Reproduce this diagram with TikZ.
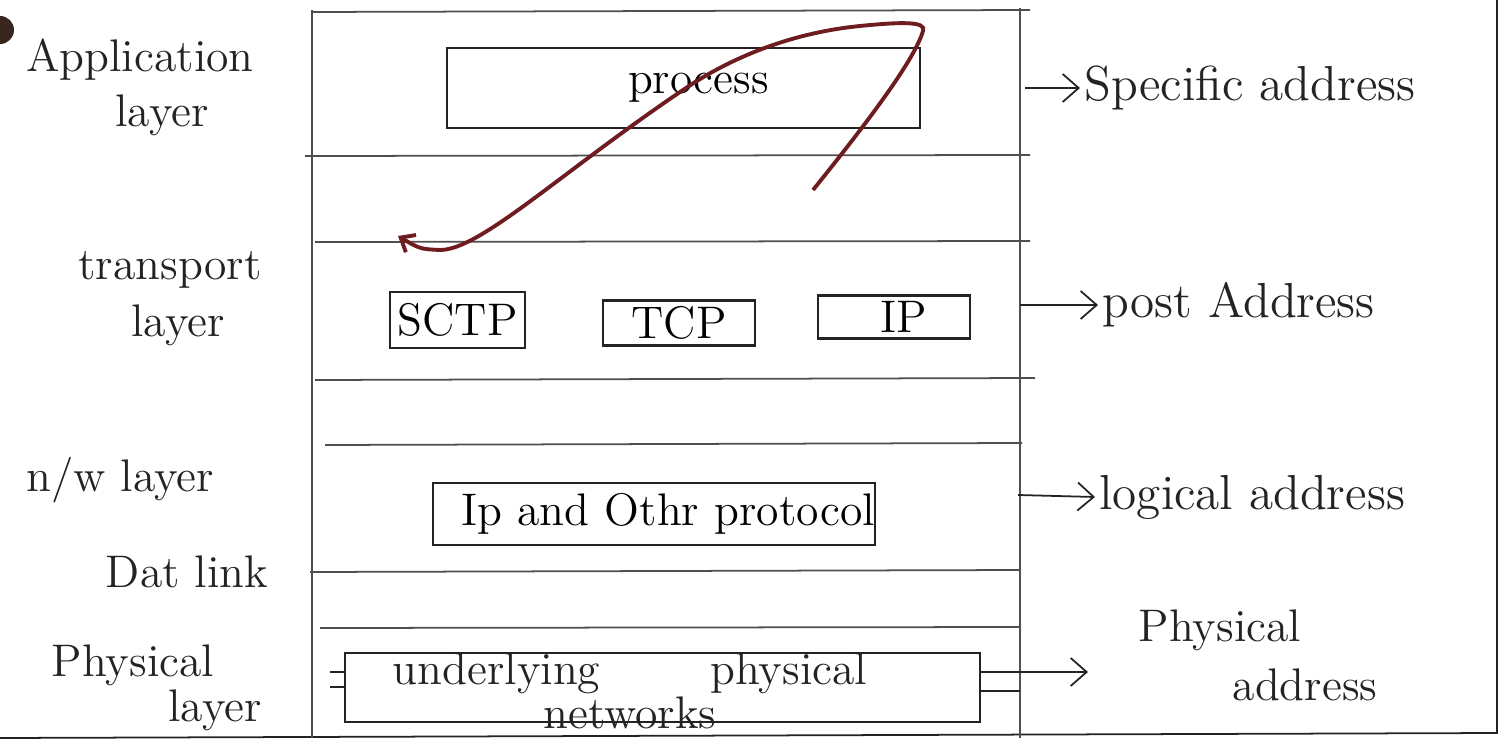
\documentclass[tikz,border=0pt]{standalone}
\usepackage{tikz}
\usetikzlibrary{arrows.meta}
\definecolor{ink}{RGB}{35,35,35}
\definecolor{penred}{RGB}{110,28,32}
\definecolor{hole}{RGB}{55,38,30}

\begin{document}
\begin{tikzpicture}[font=\fontsize{13}{16}\selectfont, line width=0.5pt,
	layerline/.style={color=ink!80},
	protobox/.style={draw=ink, line width=0.6pt, inner sep=0pt},
	lbl/.style={text=ink, inner sep=1pt},
	addrarrow/.style={draw=ink, -{Straight Barb[length=1.6mm,width=2.8mm]}}]
	\useasboundingbox (0,0) rectangle (15.1,7.53);
	\fill[white] (0,0) rectangle (15.1,7.53);
	% sheet edge and punch hole
	\fill[hole] (0,7.23) circle (0.14);
	\draw[ink] (14.97,7.53) -- (14.97,0.2) -- (0,0.15);
	% layer bands
	\draw[layerline] (3.12,7.43) -- (3.12,0.15);
	\draw[layerline] (10.20,7.45) -- (10.20,0.15);
	\draw[layerline] (3.12,7.41) -- (10.30,7.43);
	\draw[layerline] (3.05,5.97) -- (10.30,5.98);
	\draw[layerline] (3.15,5.11) -- (10.30,5.12);
	\draw[layerline] (3.15,3.73) -- (10.35,3.75);
	\draw[layerline] (3.25,3.08) -- (10.22,3.10);
	\draw[layerline] (3.10,1.81) -- (10.20,1.83);
	\draw[layerline] (3.20,1.25) -- (10.20,1.26);
	% layer names
	\node[lbl] (appname) at (1.40,6.93) {Application};
	\node[lbl] (appname2) at (1.62,6.38) {layer};
	\node[lbl] (trname) at (1.70,4.83) {transport};
	\node[lbl] (trname2) at (1.78,4.28) {layer};
	\node[lbl] (nwname) at (1.20,2.73) {n/w layer};
	\node[lbl] (dlname) at (1.87,1.81) {Dat link};
	\node[lbl] (phname) at (1.33,0.88) {Physical};
	\node[lbl] (phname2) at (2.15,0.43) {layer};
	% protocol boxes
	\node[protobox, minimum width=4.73cm, minimum height=0.8cm] (process) at (6.835,6.65) {\hspace{0.3cm}process};
	\node[protobox, minimum width=1.35cm, minimum height=0.56cm] (sctp) at (4.575,4.33) {SCTP};
	\node[protobox, minimum width=1.52cm, minimum height=0.45cm] (tcp) at (6.79,4.30) {TCP};
	\node[protobox, minimum width=1.52cm, minimum height=0.43cm] (ip) at (8.94,4.36) {\hspace{0.2cm}IP};
	\node[protobox, minimum height=0.62cm, text width=4.42cm, align=right] (ipother) at (6.54,2.39) {Ip and Othr protocol};
	\node[protobox, minimum width=6.35cm, minimum height=0.69cm] (phys) at (6.625,0.655) {};
	\node[lbl, align=center, font=\fontsize{13}{11}\selectfont] (physnet) at (6.3,0.62) {underlying\hspace{1.1cm}physical\\networks};
	\draw[ink] (3.30,0.81) -- (3.45,0.81);
	\draw[ink] (3.30,0.66) -- (3.45,0.66);
	\draw[ink] (9.80,0.62) -- (10.20,0.62);
	% addresses
	\node[lbl, anchor=west, font=\fontsize{14}{16}\selectfont] (specaddr) at (10.80,6.65) {Specific address};
	\node[lbl, anchor=west, font=\fontsize{14}{16}\selectfont] (postaddr) at (10.98,4.48) {post Address};
	\node[lbl, anchor=west, font=\fontsize{14}{16}\selectfont] (logaddr) at (10.95,2.56) {logical address};
	\node[lbl] (phyaddr) at (12.20,1.23) {Physical};
	\node[lbl] (phyaddr2) at (13.05,0.68) {address};
	\coordinate (apptip) at (10.25,6.65);
	\coordinate (trtip) at (10.20,4.48);
	\coordinate (nwtip) at (10.18,2.58);
	\coordinate (phtip) at (9.80,0.81);
	\coordinate (phend) at (10.88,0.81);
	\draw[addrarrow] (apptip) -- (specaddr.west);
	\draw[addrarrow] (trtip) -- (postaddr.west);
	\draw[addrarrow] (nwtip) -- (logaddr.west);
	\draw[addrarrow] (phtip) -- (phend);
	% red stroke from process down to transport
	\draw[penred, line width=1.1pt, -{Straight Barb[length=1.2mm,width=2mm]}]
	  (8.13,5.63) .. controls (8.75,6.4) and (9.15,6.95) .. (9.23,7.22)
	  .. controls (9.27,7.32) and (9.0,7.31) .. (8.6,7.27)
	  .. controls (7.9,7.2) and (7.3,6.95) .. (6.83,6.63)
	  .. controls (5.6,5.8) and (4.8,5.03) .. (4.4,5.03)
	  .. controls (4.2,5.04) .. (3.98,5.17);
\end{tikzpicture}
\end{document}
